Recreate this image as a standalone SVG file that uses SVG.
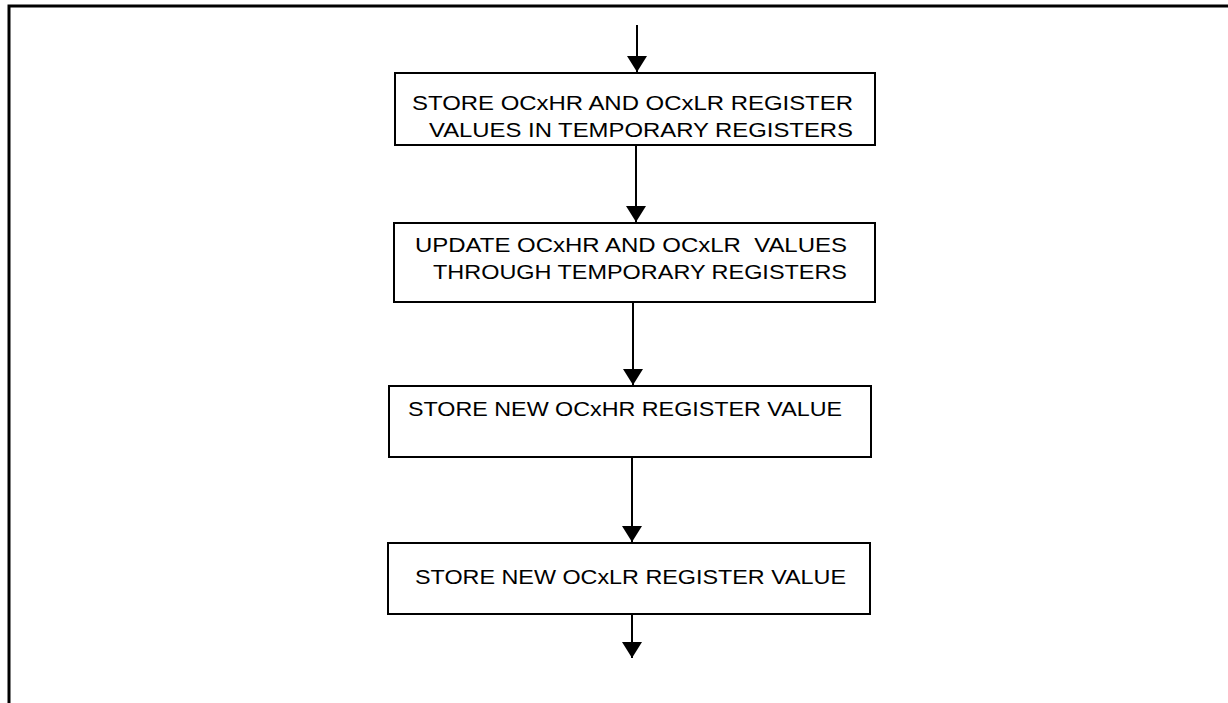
<svg xmlns="http://www.w3.org/2000/svg" width="1228" height="703" viewBox="0 0 1228 703">
  <style>
    .frame { fill: none; stroke: #000; stroke-width: 3; }
    .box { fill: #fff; stroke: #000; stroke-width: 2; }
    .lbl { font-family: "Liberation Sans", Arial, sans-serif; font-size: 19.5px; fill: #000; white-space: pre; }
    .conn { stroke: #000; stroke-width: 2; fill: none; marker-end: url(#arrow); }
  </style>
  <defs>
    <marker id="arrow" markerUnits="userSpaceOnUse" markerWidth="17" markerHeight="20" refX="16" refY="10" orient="auto" viewBox="0 0 17 20">
      <path d="M0,0 L16,10 L0,20 z" fill="#000"/>
    </marker>
  </defs>
  <rect width="1228" height="703" fill="#fff"/>
  <g id="frame">
    <path class="frame" d="M9,703 L9,6 L1228,6"/>
  </g>
  <g id="connectors">
    <line class="conn" x1="637" y1="25" x2="637" y2="72"/>
    <line class="conn" x1="636" y1="145" x2="636" y2="222"/>
    <line class="conn" x1="633" y1="302" x2="633" y2="385"/>
    <line class="conn" x1="632" y1="457" x2="632" y2="542"/>
    <line class="conn" x1="632" y1="614" x2="632" y2="658"/>
  </g>
  <g id="node1">
    <rect class="box" x="395" y="73" width="480" height="72"/>
    <text class="lbl" x="412" y="109.5" textLength="441" lengthAdjust="spacingAndGlyphs">STORE OCxHR AND OCxLR REGISTER</text>
    <text class="lbl" x="429" y="137" textLength="424" lengthAdjust="spacingAndGlyphs">VALUES IN TEMPORARY REGISTERS</text>
  </g>
  <g id="node2">
    <rect class="box" x="394" y="223" width="481" height="79"/>
    <text class="lbl" x="415" y="252" textLength="432" lengthAdjust="spacingAndGlyphs">UPDATE OCxHR AND OCxLR  VALUES</text>
    <text class="lbl" x="433" y="279" textLength="414" lengthAdjust="spacingAndGlyphs">THROUGH TEMPORARY REGISTERS</text>
  </g>
  <g id="node3">
    <rect class="box" x="389" y="386" width="482" height="71"/>
    <text class="lbl" x="408" y="415.5" textLength="434" lengthAdjust="spacingAndGlyphs">STORE NEW OCxHR REGISTER VALUE</text>
  </g>
  <g id="node4">
    <rect class="box" x="388" y="543" width="482" height="71"/>
    <text class="lbl" x="415" y="583.5" textLength="431" lengthAdjust="spacingAndGlyphs">STORE NEW OCxLR REGISTER VALUE</text>
  </g>
</svg>
